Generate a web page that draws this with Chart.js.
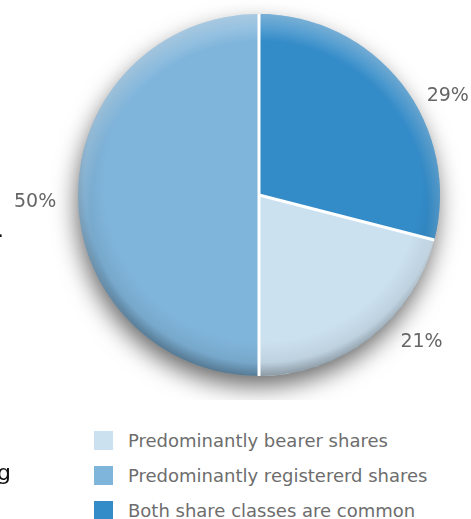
<!DOCTYPE html>
<html>
<head>
<meta charset="utf-8">
<script src="https://cdn.jsdelivr.net/npm/chart.js@4"></script>
<style>
  html, body { margin: 0; padding: 0; background: #fff; }
  body { width: 471px; height: 519px; position: relative; overflow: hidden; font-family: "DejaVu Sans", sans-serif; }
  #wrap { position: absolute; left: 0; top: 0; width: 471px; height: 400px; }
  #legend { position: absolute; left: 94px; top: 431px; margin: 0; padding: 0; list-style: none; }
  #legend li { height: 35px; display: flex; align-items: flex-start; font-size: 18px; color: #6d6d6d; }
  #legend .box { width: 19px; height: 19px; margin-right: 15px; flex: none; }
  #legend .txt { line-height: 19px; }
  .stray { position: absolute; color: #111; font-family: "DejaVu Sans", sans-serif; }
</style>
</head>
<body>
<div id="wrap"><canvas id="myChart"></canvas></div>
<ul id="legend"></ul>
<span class="stray" style="left:-3px; top:217px; font-size:22px;">.</span>
<span class="stray" style="left:-3px; top:460px; font-size:22px;">g</span>
<script>
// slice data, in legend order
const categories = ['Predominantly bearer shares', 'Predominantly registererd shares', 'Both share classes are common'];
const shares = [21, 50, 29];
const percentLabels = ['21%', '50%', '29%'];
const sliceColors = ['#cce1f0', '#80b5db', '#338bc8'];

// small nudges for the outside labels: angle (degrees) and distance (px)
const labelAngleNudge = [-10.1, -1.8, 10.2];
const labelDistNudge = [2, 7, -4];

/**
 * Drop shadow under the pie and a soft rim shading on top of it.
 */
const pieShading = {
  id: 'pieShading',
  beforeDatasetsDraw(chart) {
    const arc = chart.getDatasetMeta(0).data[0];
    const ctx = chart.ctx;
    ctx.save();
    ctx.shadowColor = 'rgba(0,0,0,0.6)';
    ctx.shadowBlur = 24;
    ctx.shadowOffsetX = -2;
    ctx.shadowOffsetY = 11;
    ctx.fillStyle = '#7fa9c9';
    ctx.beginPath();
    ctx.arc(arc.x, arc.y, arc.outerRadius - 1, 0, Math.PI * 2);
    ctx.fill();
    ctx.restore();
  },
  afterDatasetsDraw(chart) {
    const meta = chart.getDatasetMeta(0);
    const arc = meta.data[0];
    const cx = arc.x, cy = arc.y, r = arc.outerRadius;
    const ctx = chart.ctx;
    ctx.save();
    ctx.beginPath();
    ctx.arc(cx, cy, r, 0, Math.PI * 2);
    ctx.clip();

    // darker rim, strongest at the bottom left
    let g = ctx.createRadialGradient(cx + 0.02 * r, cy - 0.06 * r, 0, cx + 0.02 * r, cy - 0.06 * r, 1.06 * r);
    g.addColorStop(0, 'rgba(0,0,0,0)');
    g.addColorStop(0.82, 'rgba(0,0,0,0)');
    g.addColorStop(0.93, 'rgba(0,0,0,0.07)');
    g.addColorStop(1, 'rgba(0,0,0,0.32)');
    ctx.fillStyle = g;
    ctx.fillRect(cx - r, cy - r, 2 * r, 2 * r);

    // light highlight along the top
    g = ctx.createRadialGradient(cx, cy + 0.08 * r, 0, cx, cy + 0.08 * r, 1.08 * r);
    g.addColorStop(0, 'rgba(255,255,255,0)');
    g.addColorStop(0.86, 'rgba(255,255,255,0)');
    g.addColorStop(1, 'rgba(255,255,255,0.35)');
    ctx.fillStyle = g;
    ctx.fillRect(cx - r, cy - r, 2 * r, 2 * r);

    // white separators
    ctx.strokeStyle = '#fff';
    ctx.lineWidth = 3;
    meta.data.forEach(a => {
      ctx.beginPath();
      ctx.moveTo(cx, cy);
      ctx.lineTo(cx + Math.cos(a.startAngle) * (r + 2), cy + Math.sin(a.startAngle) * (r + 2));
      ctx.stroke();
    });
    ctx.restore();

    // outside percentage labels
    ctx.save();
    ctx.font = '19px "DejaVu Sans", sans-serif';
    ctx.fillStyle = '#666';
    ctx.textAlign = 'center';
    ctx.textBaseline = 'middle';
    meta.data.forEach((a, i) => {
      const mid = (a.startAngle + a.endAngle) / 2 + labelAngleNudge[i] * Math.PI / 180;
      const d = r + 36 + labelDistNudge[i];
      ctx.fillText(percentLabels[i], cx + Math.cos(mid) * d, cy + Math.sin(mid) * d);
    });
    ctx.restore();
  }
};

const ctx = document.getElementById('myChart');
window.myChart = new Chart(ctx, {
  type: 'pie',
  data: {
    labels: categories,
    datasets: [{
      data: shares,
      backgroundColor: sliceColors,
      borderWidth: 0
    }]
  },
  options: {
    responsive: true,
    maintainAspectRatio: false,
    animation: false,
    rotation: 104.4,
    layout: { padding: { left: 78, right: 31, top: 14, bottom: 24 } },
    plugins: {
      legend: { display: false },
      tooltip: { enabled: false }
    }
  },
  plugins: [pieShading]
});

// legend built from the same arrays
const legend = document.getElementById('legend');
categories.forEach((name, i) => {
  const li = document.createElement('li');
  li.innerHTML = '<span class="box" style="background:' + sliceColors[i] + '"></span><span class="txt">' + name + '</span>';
  legend.appendChild(li);
});
</script>
</body>
</html>
